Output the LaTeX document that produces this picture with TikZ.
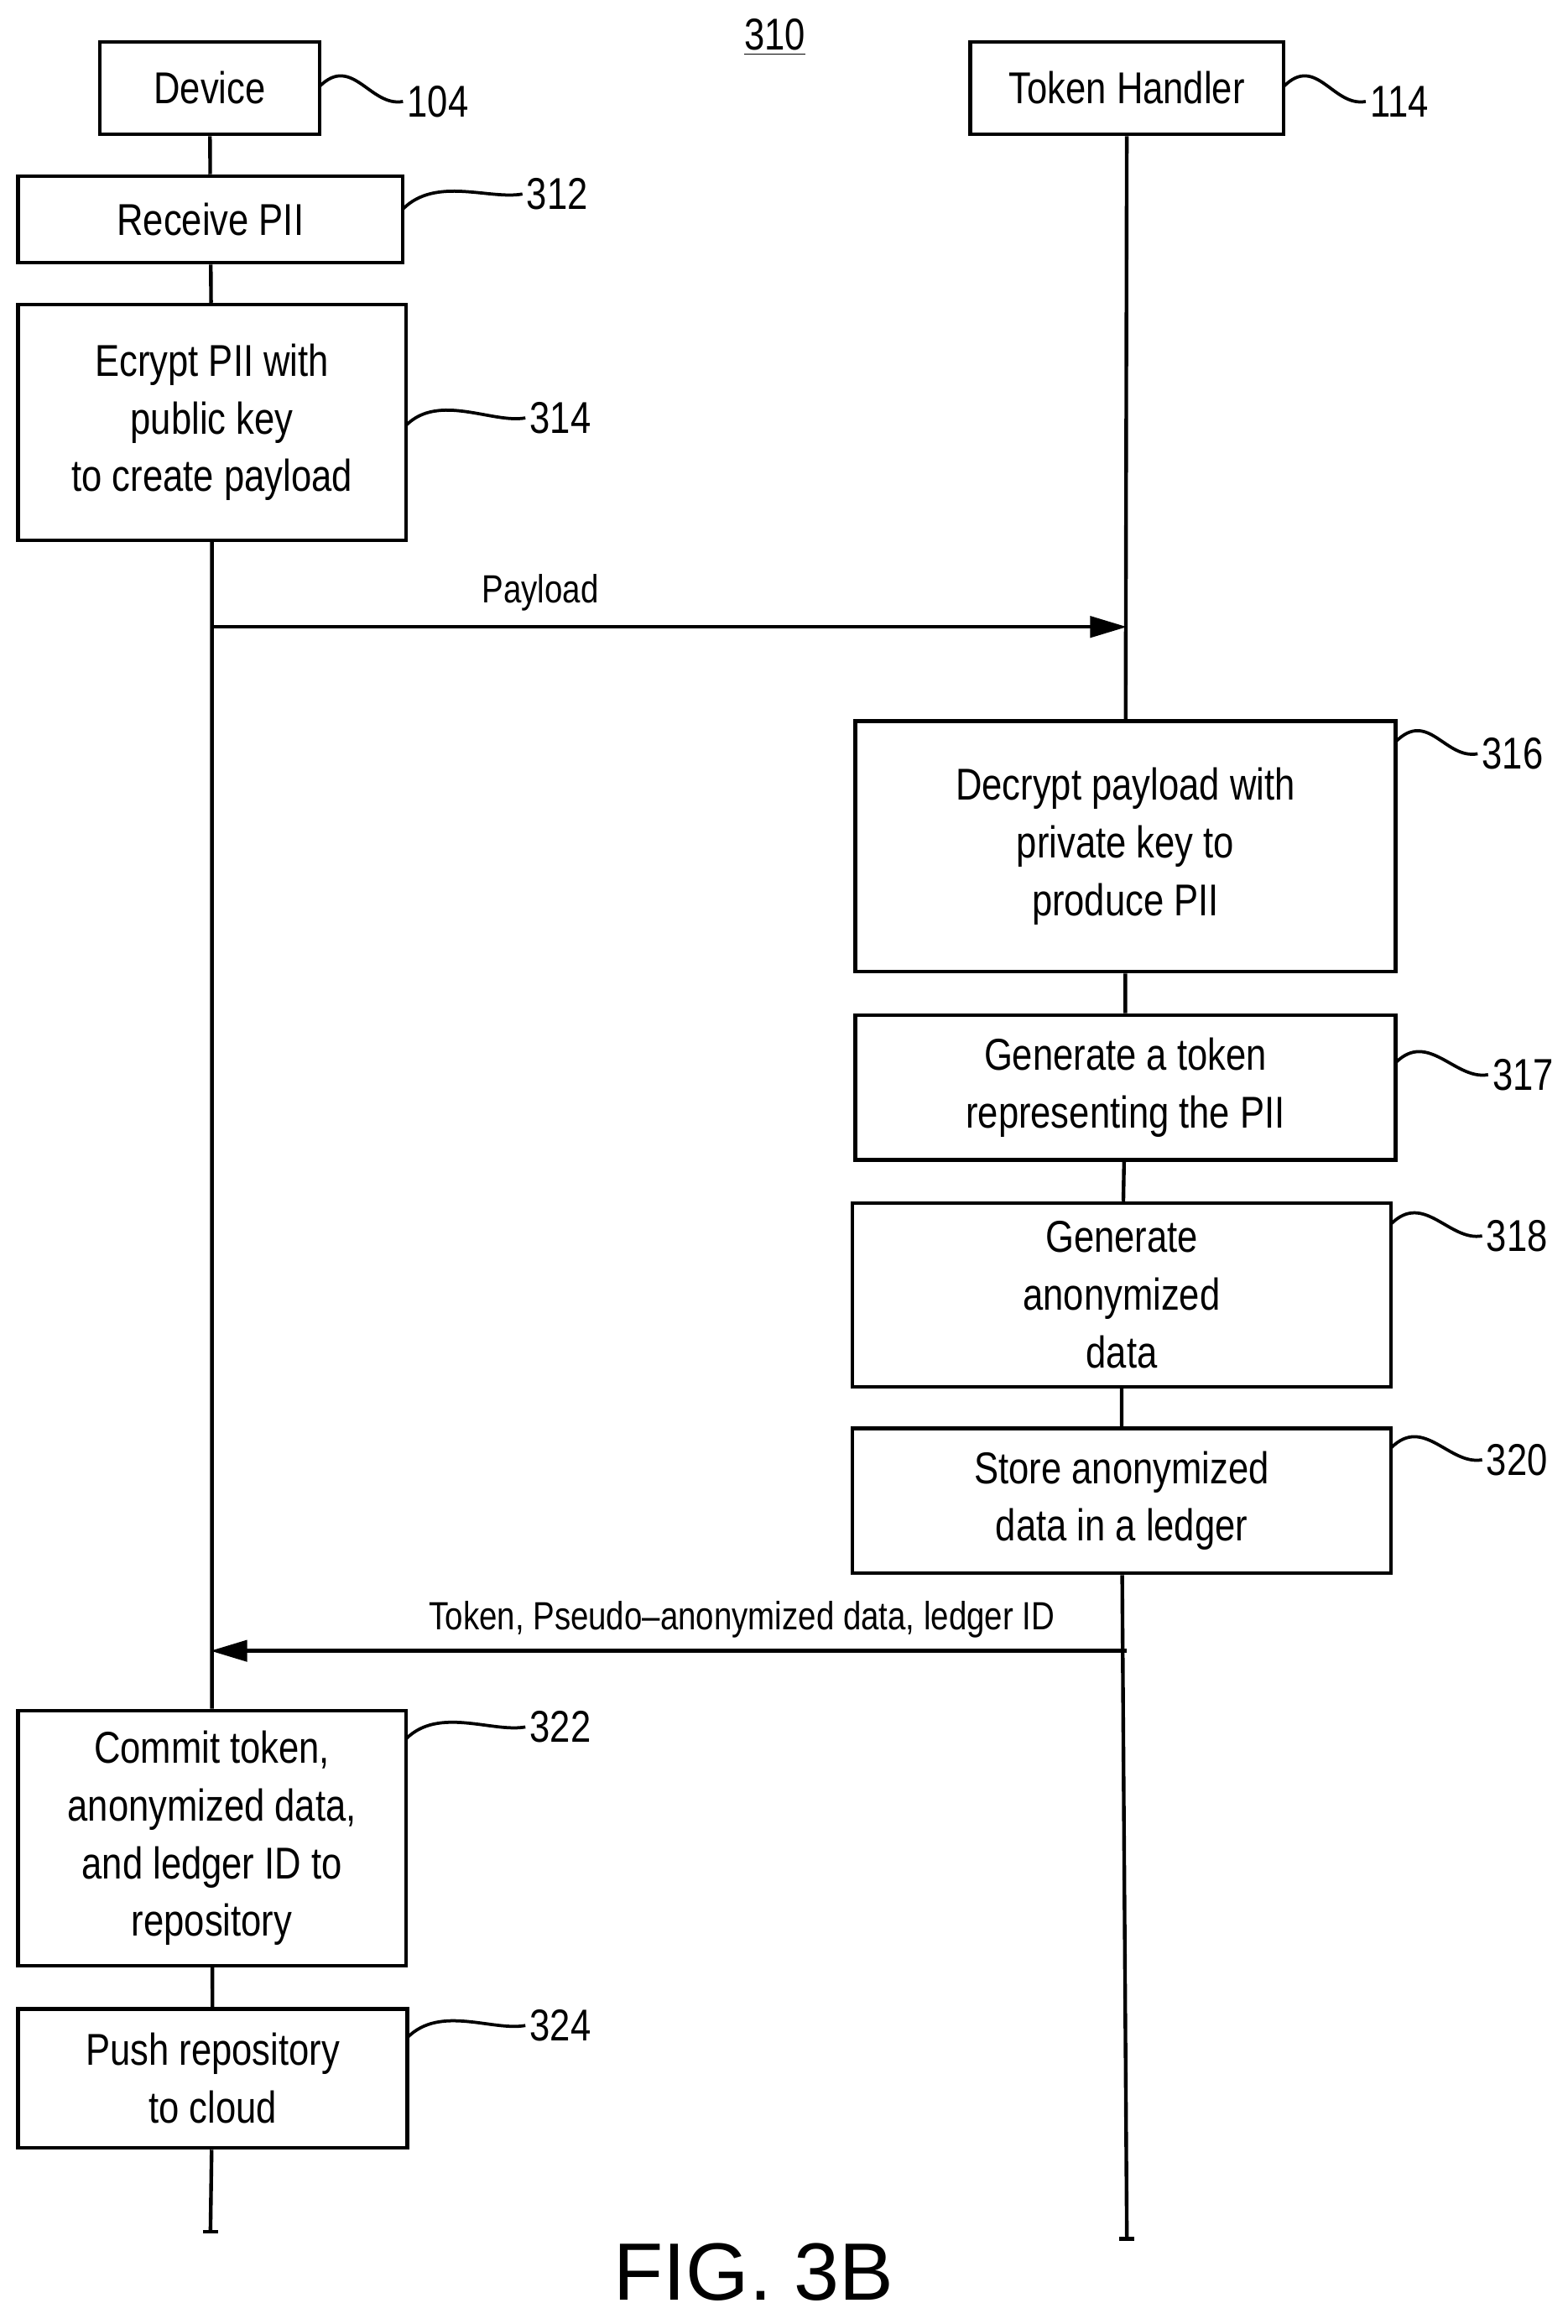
\documentclass[tikz,border=0pt]{standalone}
\usepackage{fontspec}
\setmainfont{Liberation Sans}[FakeStretch=0.82]
\usetikzlibrary{arrows.meta}
\begin{document}
\begin{tikzpicture}[x=0.02cm,y=-0.02cm,line width=1.4pt,
 box/.style={draw,rectangle,align=center,inner sep=0pt,font=\fontsize{17}{22}\selectfont},
 num/.style={font=\fontsize{17}{20}\selectfont,anchor=west,inner sep=1pt},
 sq/.style={line width=1.2pt},
 arr/.style={-{Triangle[length=14pt,width=8pt]}},
 lbl/.style={font=\fontsize{15}{18}\selectfont}]
\useasboundingbox (0,0) rectangle (1050,1557);
\node[font=\fontsize{17}{20}\selectfont] (t310) at (519,25) {\underline{310}};
\node[box,minimum width=2.94cm,minimum height=1.24cm] (dev) at (140.5,59) {Device};
\node[box,minimum width=4.2cm,minimum height=1.24cm] (th) at (755,59) {Token Handler};
\node[box,minimum width=5.16cm,minimum height=1.16cm] (s312) at (141,147) {Receive PII};
\node[box,minimum width=5.2cm,minimum height=3.16cm] (s314) at (142,283) {Ecrypt PII with\\public key\\to create payload};
\node[box,minimum width=7.24cm,minimum height=3.36cm] (s316) at (754,567) {Decrypt payload with\\private key to\\produce PII};
\node[box,minimum width=7.24cm,minimum height=1.94cm] (s317) at (754,728.5) {Generate a token\\representing the PII};
\node[box,minimum width=7.22cm,minimum height=2.46cm] (s318) at (751.5,867.5) {Generate\\anonymized\\data};
\node[box,minimum width=7.22cm,minimum height=1.94cm] (s320) at (751.5,1005.5) {Store anonymized\\data in a ledger};
\node[box,minimum width=5.2cm,minimum height=3.42cm] (s322) at (142,1231.5) {Commit token,\\anonymized data,\\and ledger ID to\\repository};
\node[box,minimum width=5.22cm,minimum height=1.86cm] (s324) at (142.5,1392.5) {Push repository\\to cloud};
% lifelines
\coordinate (le) at (141,1495); \coordinate (re) at (755,1500);
\coordinate (pa) at (141,420); \coordinate (pb) at (755,420);
\coordinate (ra) at (755,1106); \coordinate (rb) at (141,1106);
\draw (dev) -- (s312) (s312) -- (s314) (s314) -- (s322) (s322) -- (s324) (s324) -- (le);
\draw (le)+(-5,0) -- +(5,0);
\draw (th) -- (s316) (s316) -- (s317) (s317) -- (s318) (s318) -- (s320) (s320) -- (re);
\draw (re)+(-5,0) -- +(5,0);
\draw[arr] (pa) -- node[lbl,above=2pt,pos=0.36]{Payload} (pb);
\draw[arr] (ra) -- node[lbl,above=1pt,pos=0.42]{Token, Pseudo--anonymized data, ledger ID} (rb);
% labels
\foreach \n/\t/\x/\y/\bx/\by in {n104/104/270/68/214/58, n114/114/915/68/860/58, n312/312/350/130/270/140, n314/314/352/280/272/285, n316/316/990/505/935/497, n317/317/997/720/935/712, n318/318/993/828/932/820, n320/320/993/978/932/970, n322/322/352/1157/272/1165, n324/324/352/1357/273/1365}{
 \node[num] (\n) at (\x,\y) {\t};
 \draw[sq] (\bx,\by) .. controls +(22,-22) and +(-22,4) .. (\n.west);
}
\node[font=\fontsize{31}{34}\selectfont\addfontfeature{FakeStretch=1}] (fig) at (505,1522) {FIG. 3B};
\end{tikzpicture}
\end{document}
